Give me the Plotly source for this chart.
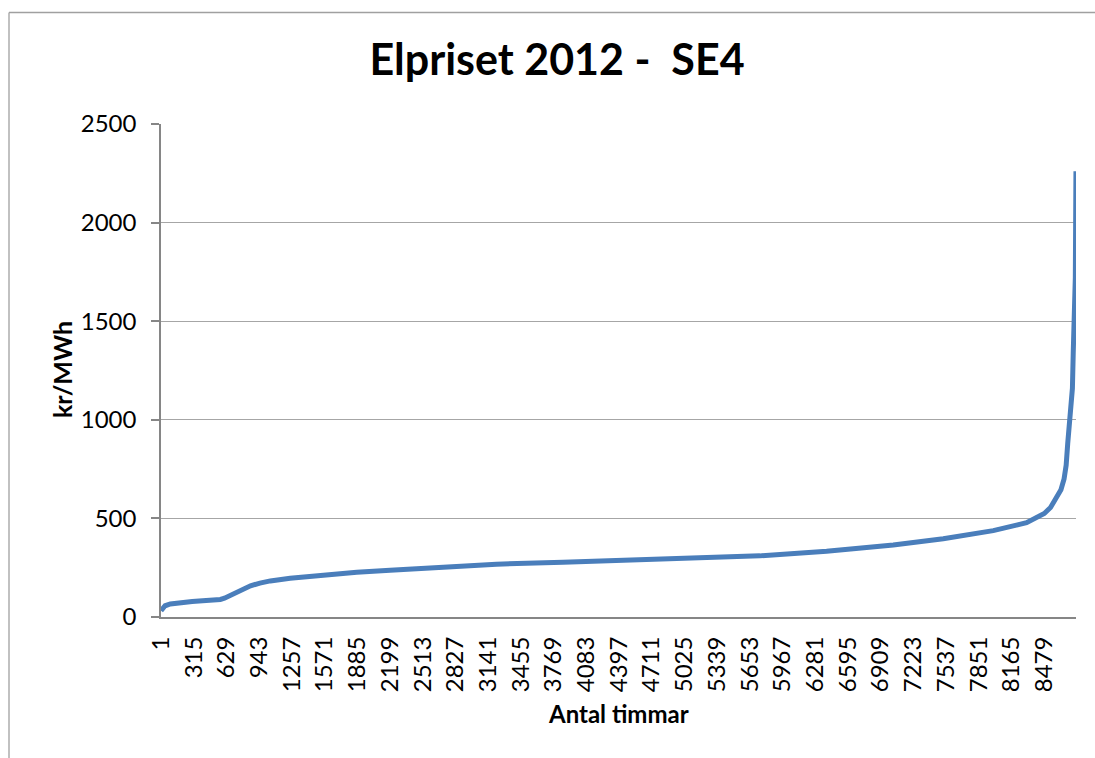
import plotly.graph_objects as go

# Sorted hourly spot prices for SE4, 2012 (price duration curve)
hours = [1, 15, 40, 90, 180, 300, 400, 500, 570, 610, 650, 700, 760, 860, 950,
         1050, 1240, 1530, 1880, 2200, 2640, 3220, 3860, 4500, 5140, 5750,
         6390, 7030, 7510, 7990, 8310, 8420, 8480, 8540, 8600, 8640, 8670,
         8690, 8705, 8720, 8735, 8750, 8758, 8772, 8778, 8784]
price = [32, 45, 57, 66, 74, 79, 82, 85, 89, 95, 106, 120, 137, 158, 172,
         183, 197, 213, 227, 237, 252, 268, 278, 287, 298, 310,
         333, 365, 397, 438, 478, 505, 525, 555, 605, 645, 700,
         770, 880, 1000, 1090, 1160, 1340, 1700, 1720, 2260]

n_hours = 8784
tick_hours = list(range(1, n_hours, 314))
y_ticks = [0, 500, 1000, 1500, 2000, 2500]

W, H = 1095, 758
ML, MR, MT, MB = 161, 19, 124, 141
PW, PH = W - ML - MR, H - MT - MB


def px_x(px):
    return (px - ML) / PW


def px_y(py):
    return (H - MB - py) / PH


FONT = "Lato"
BORDER = "#A0A0A0"

fig = go.Figure()
fig.add_trace(go.Scatter(
    x=hours, y=price, mode="lines",
    line=dict(color="#4A7EBB", width=5),
    hoverinfo="skip", showlegend=False,
))

fig.update_layout(
    width=W, height=H,
    margin=dict(l=ML, r=MR, t=MT, b=MB),
    paper_bgcolor="white", plot_bgcolor="white",
    font=dict(family=FONT, size=24, color="black"),
    title=dict(text="<b>Elpriset 2012 -  SE4</b>", x=557 / W,
               xanchor="center", y=1 - 60 / H, yanchor="middle", yref="container",
               font=dict(family=FONT, size=43, color="black")),
    xaxis=dict(
        range=[0.5, n_hours + 0.5],
        tickmode="array", tickvals=tick_hours, ticktext=[str(h) for h in tick_hours],
        tickangle=-90, ticks="", showgrid=False, zeroline=False,
        showline=True, linecolor="#868686", linewidth=2,
        ticklabelstandoff=8,
        tickfont=dict(family=FONT, size=24, color="black"),
    ),
    yaxis=dict(
        range=[0, 2500], tickvals=y_ticks,
        ticks="outside", ticklen=8, tickcolor="#868686", tickwidth=1.5,
        showgrid=True, gridcolor="#A6A6A6", gridwidth=1.3, zeroline=False,
        showline=True, linecolor="#868686", linewidth=1.5,
        ticklabelstandoff=10,
        tickfont=dict(family=FONT, size=24, color="black"),
    ),
    annotations=[
        dict(text="<b>Antal timmar</b>", xref="paper", yref="paper",
             x=px_x(618), y=px_y(713), xanchor="center", yanchor="middle",
             showarrow=False, font=dict(family=FONT, size=24, color="black")),
        dict(text="<b>kr/MWh</b>", xref="paper", yref="paper",
             x=px_x(62), y=px_y(370), xanchor="center", yanchor="middle",
             textangle=-90, showarrow=False,
             font=dict(family=FONT, size=25, color="black")),
    ],
    shapes=[
        dict(type="line", xref="paper", yref="paper",
             x0=px_x(9), x1=px_x(W), y0=px_y(12.5), y1=px_y(12.5),
             line=dict(color=BORDER, width=1.3), layer="below"),
        dict(type="line", xref="paper", yref="paper",
             x0=px_x(9), x1=px_x(9), y0=px_y(12.5), y1=px_y(H),
             line=dict(color=BORDER, width=1.3), layer="below"),
    ],
)

fig.write_html("out.html", config={"displayModeBar": False})
